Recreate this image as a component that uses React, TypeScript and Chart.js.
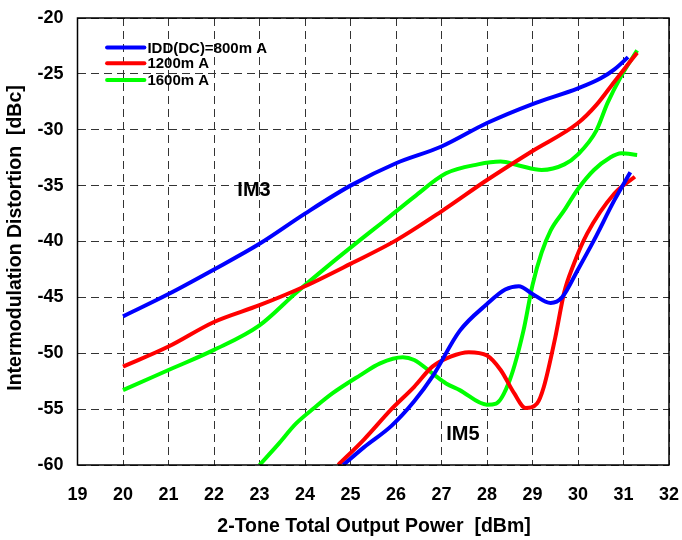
import React, { useEffect, useRef } from "react";
import Chart from "chart.js/auto";

// X axis: 2-tone total output power [dBm]; Y axis: distortion [dBc]
const xTicks = { min: 19, max: 32, step: 1 };
const yTicks = { min: -60, max: -20, step: 5 };

const seriesNames = ["IDD(DC)=800m A", "1200m A", "1600m A"];
const seriesColors = ["#0000FF", "#FF0000", "#00FF00"];

// IM3 curves
const im3_800_x = [20, 21, 22, 23, 24, 25, 26, 27, 28, 29, 30, 30.5, 30.8, 31.1];
const im3_800_y = [-46.7, -44.7, -42.5, -40.2, -37.5, -35.0, -33.0, -31.5, -29.4, -27.7, -26.3, -25.4, -24.6, -23.5];

const im3_1200_x = [20, 21, 22, 23, 24, 25, 26, 27, 28, 29, 30, 30.4, 30.8, 31.3];
const im3_1200_y = [-51.2, -49.4, -47.2, -45.7, -44.0, -42.0, -39.9, -37.3, -34.5, -31.9, -29.4, -27.8, -25.7, -23.1];

const im3_1600_x = [20, 21, 22, 23, 23.8, 24.5, 25.2, 25.7, 26.4, 27.1, 27.8, 28.3, 28.7, 29.2, 29.7, 30.0, 30.4, 30.65, 30.95, 31.3];
const im3_1600_y = [-53.3, -51.5, -49.7, -47.5, -44.6, -42.2, -39.9, -38.3, -36.0, -33.9, -33.1, -32.85, -33.2, -33.6, -33.1, -32.2, -30.1, -27.6, -25.2, -22.9];

// IM5 curves
const im5_800_x = [24.84, 25.3, 25.9, 26.4, 26.8, 27.4, 28.0, 28.4, 28.7, 29.0, 29.4, 29.65, 30.0, 30.35, 30.8, 31.15];
const im5_800_y = [-60, -58.4, -56.5, -54.3, -52.1, -48.0, -45.6, -44.3, -44.0, -44.7, -45.5, -45.0, -42.5, -39.9, -36.3, -33.8];

const im5_1200_x = [24.73, 25.3, 25.9, 26.4, 26.8, 27.2, 27.6, 28.0, 28.3, 28.6, 28.85, 29.1, 29.25, 29.5, 29.7, 29.9, 30.2, 30.8, 31.25];
const im5_1200_y = [-60, -57.7, -55.0, -53.0, -51.2, -50.3, -49.9, -50.2, -51.5, -53.6, -54.9, -54.5, -53.0, -48.6, -44.5, -42.1, -39.3, -35.7, -34.2];

const im5_1600_x = [23.0, 23.4, 23.8, 24.2, 24.6, 25.2, 25.65, 26.15, 26.4, 26.8, 27.1, 27.4, 28.0, 28.2, 28.5, 28.8, 29.0, 29.2, 29.4, 29.7, 30.0, 30.35, 30.7, 30.95, 31.3];
const im5_1600_y = [-60, -58.2, -56.3, -54.9, -53.6, -52.0, -50.9, -50.35, -50.6, -51.8, -52.7, -53.3, -54.6, -54.5, -52.4, -48.0, -43.9, -41.0, -39.0, -37.2, -35.3, -33.6, -32.5, -32.1, -32.25];

const xTitle = "2-Tone Total Output Power  [dBm]";
const yTitle = "Intermodulation Distortion  [dBc]";
const im3Label = "IM3";
const im5Label = "IM5";

const pts = (xs: number[], ys: number[]) => xs.map((x, i) => ({ x, y: ys[i] }));

const FONT = "'Liberation Sans', Arial, sans-serif";

const overlayPlugin = {
  id: "overlay",
  afterDraw(chart: any) {
    const { ctx, chartArea } = chart;
    const xs = chart.scales.x;
    const ys = chart.scales.y;
    ctx.save();
    // plot border
    ctx.strokeStyle = "#000";
    ctx.lineWidth = 1.5;
    ctx.strokeRect(chartArea.left, chartArea.top, chartArea.right - chartArea.left, chartArea.bottom - chartArea.top);

    // legend
    const legX1 = xs.getPixelForValue(19.65);
    const legX2 = xs.getPixelForValue(20.47);
    const legY = [ys.getPixelForValue(-22.63), ys.getPixelForValue(-24.05), ys.getPixelForValue(-25.55)];
    ctx.font = `bold 15px ${FONT}`;
    ctx.textBaseline = "middle";
    ctx.textAlign = "left";
    seriesNames.forEach((n, i) => {
      ctx.strokeStyle = seriesColors[i];
      ctx.lineWidth = 4;
      ctx.lineCap = "round";
      ctx.beginPath();
      ctx.moveTo(legX1, legY[i]);
      ctx.lineTo(legX2, legY[i]);
      ctx.stroke();
      ctx.fillStyle = "#000";
      ctx.fillText(n, legX2 + 3, legY[i] + 1);
    });

    // IM labels
    ctx.font = `bold 20px ${FONT}`;
    ctx.textAlign = "center";
    ctx.fillText(im3Label, xs.getPixelForValue(22.88), ys.getPixelForValue(-35.4));
    ctx.fillText(im5Label, xs.getPixelForValue(27.47), ys.getPixelForValue(-57.3));

    // axis titles
    ctx.font = `bold 19.5px ${FONT}`;
    ctx.textAlign = "center";
    ctx.textBaseline = "middle";
    ctx.fillText(xTitle, 374, 527);
    ctx.translate(16, 238);
    ctx.rotate(-Math.PI / 2);
    ctx.fillText(yTitle, 0, 0);
    ctx.restore();
  },
};

export default function App() {
  const ref = useRef<HTMLCanvasElement>(null);
  useEffect(() => {
    document.body.style.margin = "0";
    const mk = (xsArr: number[], ysArr: number[], i: number) => ({
      data: pts(xsArr, ysArr),
      borderColor: seriesColors[i],
      backgroundColor: seriesColors[i],
      borderWidth: 4,
      pointRadius: 0,
      cubicInterpolationMode: "monotone" as const,
      fill: false,
    });
    const chart = new Chart(ref.current!, {
      type: "line",
      data: {
        datasets: [
          mk(im3_800_x, im3_800_y, 0),
          mk(im3_1200_x, im3_1200_y, 1),
          mk(im3_1600_x, im3_1600_y, 2),
          mk(im5_800_x, im5_800_y, 0),
          mk(im5_1200_x, im5_1200_y, 1),
          mk(im5_1600_x, im5_1600_y, 2),
        ],
      },
      options: {
        animation: false,
        responsive: false,
        devicePixelRatio: 1,
        layout: { padding: { left: 0, top: 18, right: 13, bottom: 0 } },
        plugins: { legend: { display: false }, tooltip: { enabled: false } },
        scales: {
          x: {
            type: "linear",
            min: xTicks.min,
            max: xTicks.max,
            ticks: { stepSize: xTicks.step, color: "#000", font: { family: FONT, size: 18, weight: "bold" }, padding: 19, maxRotation: 0 },
            grid: { color: "#333", lineWidth: 1, drawTicks: false },
            border: { display: false, dash: [8, 5] },
            afterFit: (s: any) => { s.height = 75; s.paddingLeft = 0; s.paddingRight = 0; },
          },
          y: {
            type: "linear",
            min: yTicks.min,
            max: yTicks.max,
            ticks: { stepSize: yTicks.step, color: "#000", font: { family: FONT, size: 18, weight: "bold" }, padding: 14 },
            grid: { color: "#333", lineWidth: 1, drawTicks: false },
            border: { display: false, dash: [8, 5] },
            afterFit: (s: any) => { s.width = 77.5; s.paddingTop = 0; s.paddingBottom = 0; },
          },
        },
      },
      plugins: [overlayPlugin],
    } as any);
    return () => chart.destroy();
  }, []);
  return <canvas ref={ref} width={682} height={540} style={{ display: "block" }} />;
}
